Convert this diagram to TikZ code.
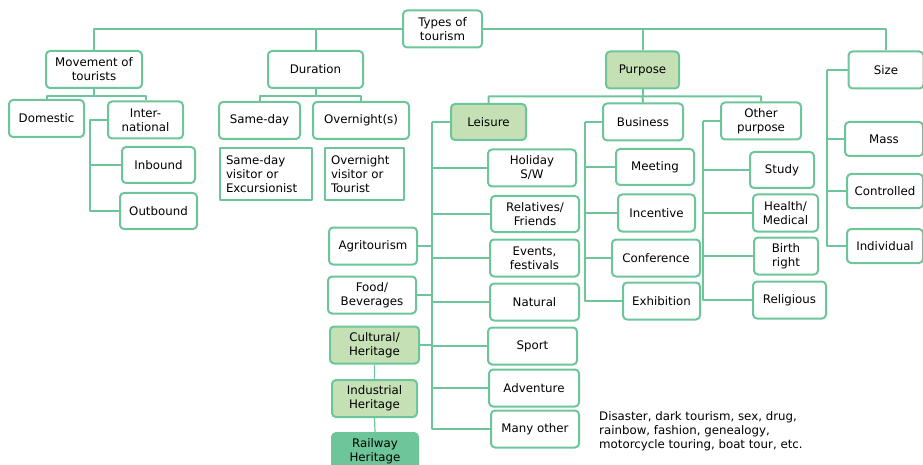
\documentclass[tikz,border=0pt]{standalone}
\usepackage{fontspec}
\setmainfont{DejaVu Sans}
\definecolor{tgreen}{HTML}{6CC69A}
\definecolor{lgreen}{HTML}{C5E0B4}
\begin{document}
\begin{tikzpicture}[x=1pt,y=-1pt,font=\fontsize{11.8}{14}\selectfont,line join=round,
	box/.style={draw=tgreen,fill=white,rounded corners=4pt,line width=2pt,align=center,inner sep=2pt,minimum width=#1,minimum height=37pt},
	desc/.style={draw=tgreen,fill=white,line width=2pt,align=left,inner xsep=6pt,inner ysep=4pt,text width=#1,minimum height=52pt},
	link/.style={draw=tgreen,line width=2pt},
	thinlink/.style={draw=tgreen,line width=1.2pt}]
\useasboundingbox (0,0) rectangle (923,465);
\node[box=79] (root) at (442.5,29) {Types of\\tourism};
\node[box=96] (move) at (94,69.5) {Movement of\\tourists};
\node[box=95] (dur) at (315.5,69.5) {Duration};
\node[box=73,fill=lgreen] (purp) at (642.5,70) {Purpose};
\node[box=75] (size) at (886,70) {Size};
\node[box=75] (dom) at (46.5,118.5) {Domestic};
\node[box=75] (inter) at (145.5,120) {Inter-\\national};
\node[box=73,minimum height=36pt] (inb) at (158.5,165) {Inbound};
\node[box=77,minimum height=36pt] (outb) at (158.5,211) {Outbound};
\node[box=81] (sday) at (259.5,120.5) {Same-day};
\node[box=96] (onight) at (361,120.5) {Overnight(s)};
\node[desc=80pt,anchor=north west] (sdv) at (219,147) {Same-day\\visitor or\\Excursionist};
\node[desc=67pt,anchor=north west] (onv) at (324,147) {Overnight\\visitor or\\Tourist};
\node[box=75,minimum height=36pt,fill=lgreen] (leis) at (488.5,122) {Leisure};
\node[box=80] (bus) at (643,122) {Business};
\node[box=80] (oth) at (761,121) {Other\\purpose};
\node[box=78,minimum height=34pt] (mass) at (884,139) {Mass};
\node[box=76,minimum height=34pt] (ctrl) at (885,191) {Controlled};
\node[box=76,minimum height=34pt] (indiv) at (885,246) {Individual};
\node[box=88] (hol) at (532,168) {Holiday\\S/W};
\node[box=88,minimum height=36pt] (rel) at (535,214) {Relatives/\\Friends};
\node[box=89] (evt) at (534.5,258) {Events,\\festivals};
\node[box=89] (nat) at (534.5,302) {Natural};
\node[box=89] (sport) at (532.5,346) {Sport};
\node[box=90] (adv) at (534,388) {Adventure};
\node[box=88] (many) at (535,429) {Many other};
\node[box=88] (agri) at (373,246) {Agritourism};
\node[box=88] (food) at (372,295) {Food/\\Beverages};
\node[box=89,fill=lgreen] (cult) at (374.5,345) {Cultural/\\Heritage};
\node[box=85,fill=lgreen] (ind) at (374.5,398.5) {Industrial\\Heritage};
\node[box=86,fill=tgreen] (rail) at (375,451.5) {Railway\\Heritage};
\node[box=78,minimum height=36pt] (meet) at (655,167) {Meeting};
\node[box=77] (inc) at (656.5,213) {Incentive};
\node[box=88] (conf) at (656,258) {Conference};
\node[box=77] (exh) at (661.5,301) {Exhibition};
\node[box=64,minimum height=36pt] (study) at (782,170) {Study};
\node[box=65] (health) at (785.5,213) {Health/\\Medical};
\node[box=64] (birth) at (786,256) {Birth\\right};
\node[box=73] (relig) at (789.5,300) {Religious};
\node[align=left,anchor=north west,inner sep=0pt] (note) at (599,411) {Disaster, dark tourism, sex, drug,\\rainbow, fashion, genealogy,\\motorcycle touring, boat tour, etc.};
\draw[link] (move.north) |- (root.west) (root.east) -| (size.north);
\draw[link] (dur.north) -- (dur.north |- root.west) (purp.north) -- (purp.north |- root.east);
\draw[link] (move.south) -- ++(0,7) coordinate (mb);
\draw[link] (dom.north) |- (mb) -| (inter.north);
\draw[link] (inter.west) -- ++(-17,0) coordinate (ib) |- (inb.west) (ib) |- (outb.west);
\draw[link] (dur.south) -- ++(0,7) coordinate (db);
\draw[link] (sday.north) |- (db) -| (onight.north);
\draw[link] (purp.south) -- ++(0,7) coordinate (pb);
\draw[link] (leis.north) |- (pb) -| (oth.north) (pb) -- (bus.north);
\draw[link] (leis.west) -- ++(-18,0) coordinate (ls);
\foreach \n in {hol,rel,evt,nat,sport,adv,many} \draw[link] (ls) |- (\n.west);
\foreach \n in {agri,food,cult} \draw[link] (ls) |- (\n.east);
\draw[thinlink] (cult.south) -- (ind.north) (ind.south) -- (rail.north);
\draw[link] (bus.west) -- ++(-17,0) coordinate (bs);
\foreach \n in {meet,inc,conf,exh} \draw[link] (bs) |- (\n.west);
\draw[link] (oth.west) -- ++(-17,0) coordinate (os);
\foreach \n in {study,health,birth,relig} \draw[link] (os) |- (\n.west);
\draw[link] (size.west) -- ++(-21,0) coordinate (ss);
\foreach \n in {mass,ctrl,indiv} \draw[link] (ss) |- (\n.west);
\end{tikzpicture}
\end{document}
